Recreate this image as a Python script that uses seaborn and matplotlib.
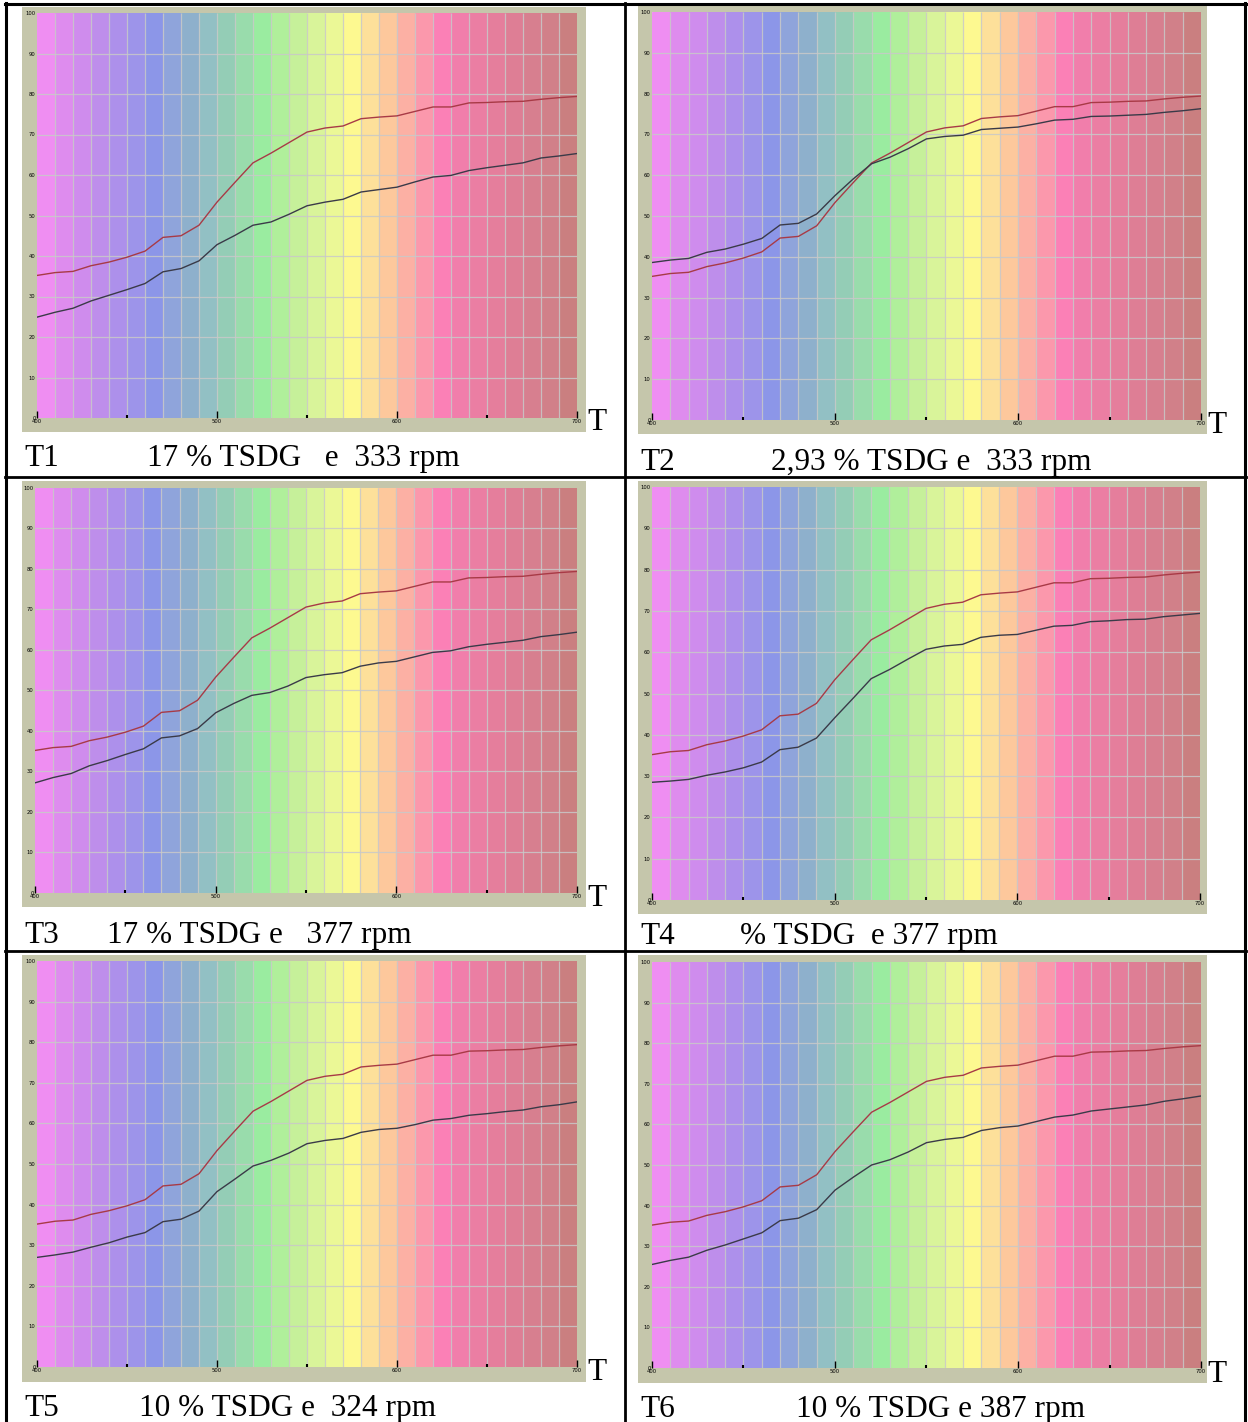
import numpy as np
import pandas as pd
import matplotlib
matplotlib.use("Agg")
import matplotlib.pyplot as plt
import seaborn as sns
from matplotlib.patches import Rectangle
from matplotlib.lines import Line2D

W, H = 1248, 1422

# wavelength (nm) and reflectance curves (%)
nm = list(range(400, 701, 10))

# reference (red) curve, same in every panel
ref = [35.2, 35.9, 36.2, 37.6, 38.5, 39.7, 41.2, 44.6, 45.0, 47.6, 53.3,
       58.2, 63.0, 65.4, 68.0, 70.6, 71.6, 72.1, 73.9, 74.3, 74.6,
       75.7, 76.8, 76.8, 77.8, 77.9, 78.1, 78.2, 78.7, 79.1, 79.4]

t1 = [24.9, 26.1, 27.1, 28.9, 30.3, 31.7, 33.2, 36.1, 36.9, 38.8, 42.8,
      45.1, 47.6, 48.4, 50.3, 52.4, 53.3, 54.0, 55.8, 56.4, 57.0,
      58.3, 59.5, 59.9, 61.1, 61.8, 62.4, 63.0, 64.2, 64.7, 65.3]
t2 = [38.6, 39.2, 39.6, 41.1, 41.9, 43.1, 44.5, 47.8, 48.2, 50.5, 55.0,
      59.1, 62.8, 64.4, 66.5, 68.9, 69.5, 69.8, 71.2, 71.5, 71.8,
      72.6, 73.5, 73.7, 74.4, 74.5, 74.7, 74.9, 75.4, 75.8, 76.3]
t3 = [27.2, 28.5, 29.5, 31.4, 32.7, 34.2, 35.6, 38.3, 38.8, 40.6, 44.5,
      46.8, 48.8, 49.5, 51.1, 53.2, 53.9, 54.4, 56.0, 56.8, 57.2,
      58.3, 59.4, 59.8, 60.8, 61.4, 61.9, 62.4, 63.3, 63.8, 64.4]
t4 = [28.5, 28.8, 29.2, 30.2, 31.0, 32.0, 33.4, 36.4, 37.0, 39.2, 44.1,
      48.8, 53.6, 55.8, 58.3, 60.7, 61.5, 61.9, 63.6, 64.1, 64.3,
      65.3, 66.3, 66.5, 67.4, 67.6, 67.9, 68.0, 68.6, 69.0, 69.4]
t5 = [27.0, 27.6, 28.3, 29.5, 30.6, 32.0, 33.1, 35.8, 36.4, 38.4, 43.2,
      46.3, 49.5, 50.9, 52.7, 55.0, 55.8, 56.3, 57.8, 58.5, 58.8,
      59.7, 60.8, 61.2, 62.0, 62.4, 62.9, 63.3, 64.1, 64.6, 65.3]
t6 = [25.5, 26.5, 27.3, 29.0, 30.3, 31.8, 33.3, 36.3, 36.9, 39.0, 43.8,
      47.0, 50.0, 51.3, 53.2, 55.5, 56.3, 56.8, 58.5, 59.2, 59.6,
      60.7, 61.8, 62.3, 63.3, 63.8, 64.3, 64.8, 65.7, 66.3, 67.0]

labels = ["T1", "T2", "T3", "T4", "T5", "T6"]
captions = ["17 % TSDG   e  333 rpm", "2,93 % TSDG e  333 rpm",
            "17 % TSDG e   377 rpm", "% TSDG  e 377 rpm",
            "10 % TSDG e  324 rpm", "10 % TSDG e 387 rpm"]
samples = [t1, t2, t3, t4, t5, t6]

# spectrum background bands (one per 10 nm)
band_colors = ['#ef8ef2', '#de8cee', '#cf8ced', '#be8eeb', '#ad90eb', '#9d94ea',
               '#8c96e8', '#8fa4db', '#8eb0cc', '#92c0c4', '#94cdb6', '#99dcac',
               '#9aeca0', '#b0ef9b', '#c6f09a', '#d9f49a', '#ebf896', '#fdf990',
               '#fde09a', '#fdc89c', '#fcb0a4', '#fb98ac', '#fb80b6', '#f17eab',
               '#eb7ea3', '#e57e9c', '#de7e95', '#d77f8f', '#d18089', '#ca7f80']

# layout in pixels: plot area, beige frame, caption baseline, "T" position
layout = [
    dict(plot=(37, 13, 577, 418), frame=(22, 7, 586, 432), lx=24, cx=147, cy=466, T=(587, 430)),
    dict(plot=(652, 12, 1201, 420), frame=(638, 6, 1207, 434), lx=640, cx=771, cy=470, T=(1207, 433)),
    dict(plot=(35, 488, 577, 893), frame=(22, 481, 586, 907), lx=24, cx=107, cy=943, T=(587, 906)),
    dict(plot=(652, 487, 1200, 900), frame=(638, 481, 1207, 914), lx=640, cx=740, cy=944, T=None),
    dict(plot=(37, 961, 577, 1367), frame=(22, 955, 586, 1382), lx=24, cx=139, cy=1416, T=(587, 1380)),
    dict(plot=(652, 962, 1201, 1368), frame=(638, 955, 1207, 1383), lx=640, cx=796, cy=1417, T=(1207, 1382)),
]


def box(x0, y0, x1, y1):
    return [x0 / W, 1 - y1 / H, (x1 - x0) / W, (y1 - y0) / H]


fig = plt.figure(figsize=(W / 100, H / 100), dpi=100)
serif = ["Liberation Serif", "DejaVu Serif"]

for lab, cap, vals, lay in zip(labels, captions, samples, layout):
    fx0, fy0, fx1, fy1 = lay["frame"]
    fig.patches.append(Rectangle((fx0 / W, 1 - fy1 / H), (fx1 - fx0) / W, (fy1 - fy0) / H,
                                 transform=fig.transFigure, facecolor="#c5c6ab",
                                 edgecolor="none", zorder=-5))
    ax = fig.add_axes(box(*lay["plot"]))
    ax.set_zorder(2)
    ax.bar(nm[:-1], [100] * len(band_colors), width=10, align="edge",
           color=band_colors, edgecolor=band_colors, linewidth=0.8, zorder=0)
    ax.vlines(nm[1:-1], 0, 100, color="#c9c9c9", lw=0.9, alpha=0.85, zorder=1)
    ax.hlines(range(10, 100, 10), 400, 700, color="#c9c9c9", lw=0.9, alpha=0.85, zorder=1)

    df = pd.DataFrame({"nm": nm, "ref": ref, "sample": vals})
    sns.lineplot(data=df, x="nm", y="ref", ax=ax, color="#a83a46", lw=1.0, zorder=3)
    sns.lineplot(data=df, x="nm", y="sample", ax=ax, color="#3a3a48", lw=1.0, zorder=3)

    ax.set_xlim(400, 700)
    ax.set_ylim(0, 100)
    ax.set_xlabel("")
    ax.set_ylabel("")
    for s in ax.spines.values():
        s.set_visible(False)
    ax.set_xticks([400, 500, 600, 700])
    ax.set_xticks([450, 550, 650], minor=True)
    ax.set_yticks(range(0, 101, 10))
    ax.tick_params(axis="x", which="major", direction="in", length=5, width=1,
                   color="black", labelsize=3.8, pad=1)
    ax.tick_params(axis="x", which="minor", direction="in", length=2.5, width=1.5,
                   color="black")
    ax.tick_params(axis="y", direction="in", length=0, labelsize=3.8, pad=1)

    fig.text(lay["lx"] / W, 1 - lay["cy"] / H, lab, fontsize=22.5, family=serif,
             va="baseline", ha="left")
    fig.text(lay["cx"] / W, 1 - lay["cy"] / H, cap, fontsize=22.5, family=serif,
             va="baseline", ha="left")
    if lay["T"] is not None:
        tx, ty = lay["T"]
        fig.text(tx / W, 1 - ty / H, "T", fontsize=22.5, family=serif,
                 va="baseline", ha="left")

# table borders
def hline(y, x0, x1, lw):
    fig.add_artist(Line2D([x0 / W, x1 / W], [1 - y / H, 1 - y / H], color="black",
                          lw=lw, transform=fig.transFigure))


def vline(x, y0, y1, lw):
    fig.add_artist(Line2D([x / W, x / W], [1 - y0 / H, 1 - y1 / H], color="black",
                          lw=lw, transform=fig.transFigure))


hline(4, 5, 1246, 2.2)
hline(477, 5, 1246, 2.0)
hline(951, 5, 1246, 2.0)
vline(6, 3, 1422, 2.2)
vline(625, 3, 1422, 2.0)
vline(1245, 3, 1422, 2.2)

fig.savefig("out.png", dpi=100)
